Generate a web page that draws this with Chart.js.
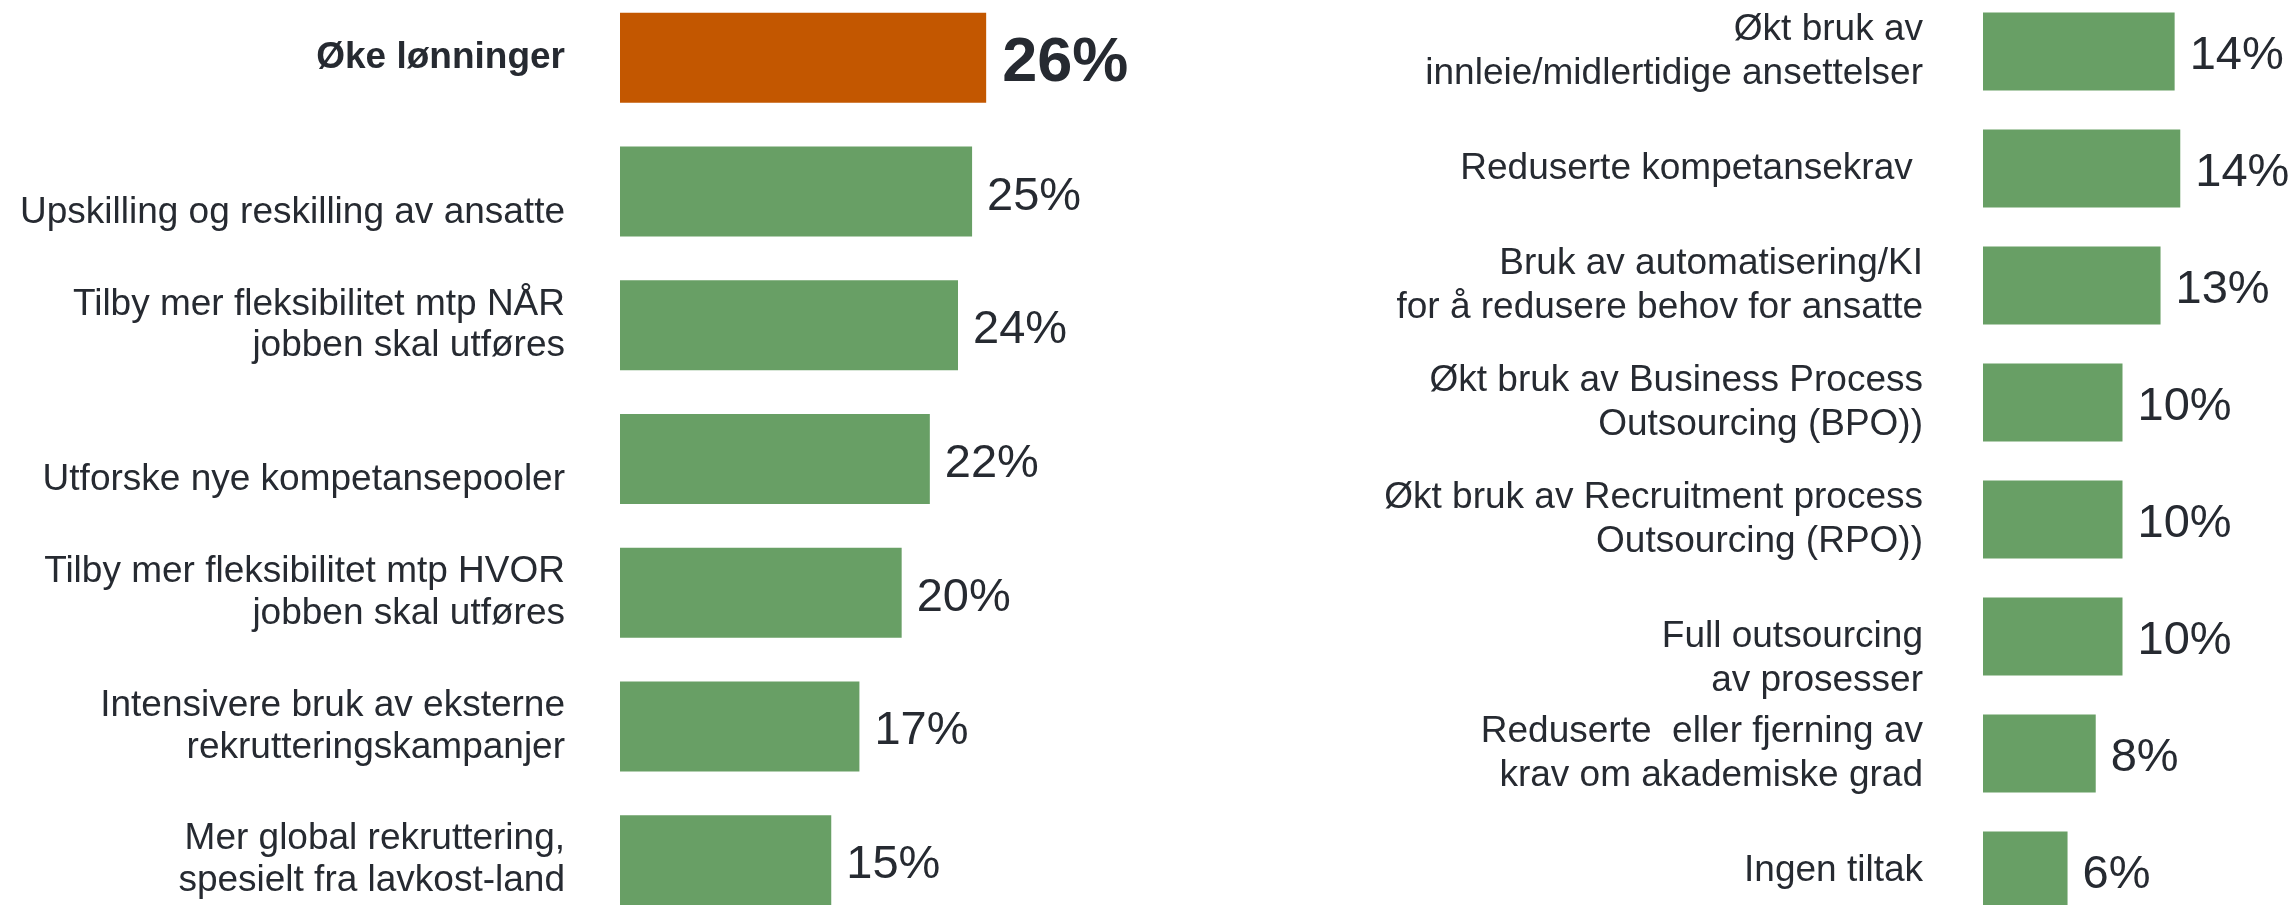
<!DOCTYPE html>
<html lang="no">
<head>
<meta charset="utf-8">
<title>Tiltak</title>
<script src="https://cdn.jsdelivr.net/npm/chart.js@4.4.1/dist/chart.umd.min.js"></script>
<style>
  html, body { margin: 0; padding: 0; background: #fff; overflow: hidden; }
  body { width: 2295px; height: 905px; position: relative; }
  .panel { position: absolute; }
  #venstre { left: 0; top: -9px; width: 1127px; height: 936px; }
  #hoyre { left: 1150px; top: -7px; width: 1143px; height: 936px; }
</style>
</head>
<body>
<div class="panel" id="venstre"><canvas id="tiltakVenstre"></canvas></div>
<div class="panel" id="hoyre"><canvas id="tiltakHoyre"></canvas></div>
<script>
// Data - venstre del (tom linje først flytter etiketten litt ned, som i originalen)
const kategorierVenstre = [
    'Øke lønninger',
    ['', 'Upskilling og reskilling av ansatte'],
    ['Tilby mer fleksibilitet mtp NÅR', 'jobben skal utføres'],
    ['', 'Utforske nye kompetansepooler'],
    ['Tilby mer fleksibilitet mtp HVOR', 'jobben skal utføres'],
    ['Intensivere bruk av eksterne', 'rekrutteringskampanjer'],
    ['Mer global rekruttering,', 'spesielt fra lavkost-land']
];
const verdierVenstre = [26, 25, 24, 22, 20, 17, 15];

// Data - høyre del
const kategorierHoyre = [
    ['Økt bruk av', 'innleie/midlertidige ansettelser'],
    'Reduserte kompetansekrav ',
    ['Bruk av automatisering/KI', 'for å redusere behov for ansatte'],
    ['Økt bruk av Business Process', 'Outsourcing (BPO))'],
    ['Økt bruk av Recruitment process', 'Outsourcing (RPO))'],
    ['', 'Full outsourcing', 'av prosesser'],
    ['Reduserte  eller fjerning av', 'krav om akademiske grad'],
    'Ingen tiltak'
];
const verdierHoyre = [13.6, 14, 12.6, 9.9, 9.9, 9.9, 8, 6];

const GRONN = '#689f65';
const ORANSJE = '#c35700';
const TEKST = '#262a31';
const FONT = '"Liberation Sans", Arial, Helvetica, sans-serif';

// Prosent-etiketter ved enden av hver søyle
const verdiEtiketter = {
    id: 'verdiEtiketter',
    afterDatasetsDraw(chart, args, opts) {
        const ctx = chart.ctx;
        const meta = chart.getDatasetMeta(0);
        const data = chart.data.datasets[0].data;
        ctx.save();
        ctx.fillStyle = TEKST;
        ctx.textAlign = 'left';
        ctx.textBaseline = 'middle';
        meta.data.forEach((bar, i) => {
            const uthev = opts.uthevet === i;
            ctx.font = uthev ? 'bold 63px ' + FONT : '47px ' + FONT;
            ctx.fillText(Math.round(data[i]) + '%', bar.x + (uthev ? 16 : 15), bar.y + (uthev ? 6 : 5));
        });
        ctx.restore();
    }
};

function lagDiagram(id, kategorier, verdier, o) {
    return new Chart(document.getElementById(id), {
        type: 'bar',
        data: {
            labels: kategorier,
            datasets: [{
                data: verdier,
                backgroundColor: (c) => c.dataIndex === o.uthevet ? ORANSJE : GRONN,
                categoryPercentage: 1,
                barPercentage: o.barPst
            }]
        },
        options: {
            indexAxis: 'y',
            responsive: true,
            maintainAspectRatio: false,
            animation: false,
            layout: { padding: 0 },
            plugins: {
                legend: { display: false },
                tooltip: { enabled: false },
                verdiEtiketter: { uthevet: o.uthevet }
            },
            scales: {
                x: { display: false, min: 0, max: o.maks },
                y: {
                    // fast aksebredde, og ingen ekstra luft over/under søylene
                    afterFit: (scale) => {
                        scale.width = o.aksebredde;
                        scale.paddingTop = 0;
                        scale.paddingBottom = 0;
                    },
                    grid: { display: false, drawTicks: false },
                    border: { display: false },
                    ticks: {
                        autoSkip: false,
                        padding: o.avstand,
                        color: TEKST,
                        font: (c) => ({
                            family: FONT,
                            size: 37,
                            lineHeight: o.linje,
                            weight: c.index === o.uthevet ? 'bold' : 'normal'
                        })
                    }
                }
            }
        },
        plugins: [verdiEtiketter]
    });
}

lagDiagram('tiltakVenstre', kategorierVenstre, verdierVenstre,
    { uthevet: 0, maks: 36, aksebredde: 620, avstand: 55, barPst: 0.673, linje: 1.13 });
lagDiagram('tiltakHoyre', kategorierHoyre, verdierHoyre,
    { uthevet: -1, maks: 22, aksebredde: 833, avstand: 60, barPst: 0.667, linje: 1.2 });
</script>
</body>
</html>
